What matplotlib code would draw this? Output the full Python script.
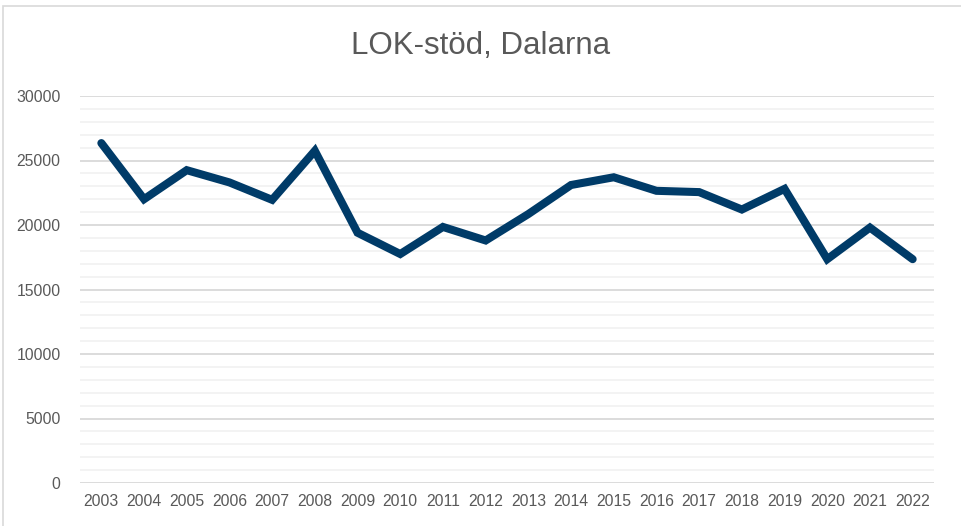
import matplotlib.pyplot as plt
from matplotlib.patches import Rectangle
from matplotlib.ticker import MultipleLocator

years = [str(y) for y in range(2003, 2023)]
lok_stod = [26350, 22000, 24250, 23300, 21950, 25750, 19400, 17750, 19850, 18800,
            20850, 23100, 23700, 22650, 22550, 21200, 22800, 17350, 19800, 17350]

plt.rcParams["font.family"] = ["Liberation Sans", "DejaVu Sans"]
text_color = "#595959"

fig = plt.figure(figsize=(9.61, 5.26), dpi=100)
ax = fig.add_axes([80 / 961, 1 - 483 / 526, 854 / 961, 387 / 526])

x = list(range(len(years)))
ax.plot(x, lok_stod, color="#003B68", linewidth=5.8, solid_capstyle="round",
        solid_joinstyle="miter", zorder=3)

ax.set_xlim(-0.5, len(years) - 0.5)
ax.set_ylim(0, 30000)
ax.yaxis.set_major_locator(MultipleLocator(5000))
ax.yaxis.set_minor_locator(MultipleLocator(1000))
ax.grid(which="major", axis="y", color="#D9D9D9", linewidth=1.3)
ax.grid(which="minor", axis="y", color="#F2F2F2", linewidth=1.3)
ax.set_axisbelow(True)

ax.set_xticks(x)
ax.set_xticklabels(years)
ax.tick_params(axis="both", which="both", length=0, labelsize=11.3, colors=text_color)
ax.tick_params(axis="x", pad=8)
ax.tick_params(axis="y", pad=14)
for s in ax.spines.values():
    s.set_visible(False)

fig.text(481 / 961, 1 - 46 / 526, "LOK-stöd, Dalarna", ha="center", va="center",
         fontsize=22.5, color=text_color)

fig.patches.append(Rectangle((3 / 961, -0.1), 1.2, 1 - 6 / 526 + 0.1, transform=fig.transFigure,
                             fill=False, edgecolor="#D9D9D9", linewidth=1.2))

fig.savefig("out.png", dpi=100)
